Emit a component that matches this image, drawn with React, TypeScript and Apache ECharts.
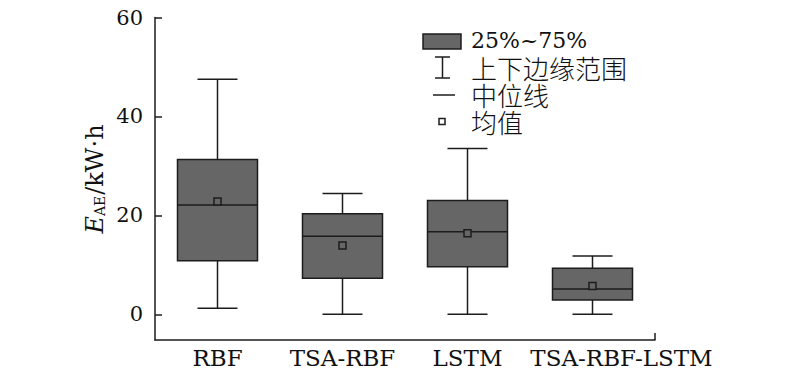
import React, { useEffect, useRef } from "react";
import * as echarts from "echarts";

const categories = ["RBF", "TSA-RBF", "LSTM", "TSA-RBF-LSTM"];
// [low whisker, Q1, median, Q3, high whisker]
const lowValues = [1.2, 0, 0, 0];
const q1Values = [10.8, 7.3, 9.6, 2.9];
const medianValues = [22.1, 15.8, 16.7, 5.1];
const q3Values = [31.3, 20.3, 23.0, 9.3];
const highValues = [47.5, 24.4, 33.5, 11.8];
const meanValues = [22.8, 13.9, 16.4, 5.7];
const yTicks = [0, 20, 40, 60];
const legendLabels = ["25%~75%", "上下边缘范围", "中位线", "均值"];

const SERIF = "'DejaVu Serif', 'Liberation Serif', serif";
const CJK = "'Noto Sans CJK SC', sans-serif";
const BOX_FILL = "#666666";
const LINE = "#1c1c1c";

export default function App() {
  const ref = useRef<HTMLDivElement>(null);
  useEffect(() => {
    if (!ref.current) return;
    const chart = echarts.init(ref.current, undefined, { renderer: "svg" });
    const data = categories.map((_, i) => [
      i,
      lowValues[i],
      q1Values[i],
      medianValues[i],
      q3Values[i],
      highValues[i],
      meanValues[i],
    ]);

    const renderItem = (params: any, api: any) => {
      const idx = api.value(0);
      const band = api.size([1, 0])[0];
      const hw = band * 0.32;
      const cw = band * 0.16;
      const pLow = api.coord([idx, api.value(1)]);
      const pQ1 = api.coord([idx, api.value(2)]);
      const pMed = api.coord([idx, api.value(3)]);
      const pQ3 = api.coord([idx, api.value(4)]);
      const pHigh = api.coord([idx, api.value(5)]);
      const pMean = api.coord([idx, api.value(6)]);
      const x = pMed[0];
      const ls = { stroke: LINE, lineWidth: 1.5 };
      const sq = 7;
      return {
        type: "group",
        children: [
          { type: "line", shape: { x1: x, y1: pHigh[1], x2: x, y2: pQ3[1] }, style: ls },
          { type: "line", shape: { x1: x, y1: pQ1[1], x2: x, y2: pLow[1] }, style: ls },
          { type: "line", shape: { x1: x - cw, y1: pHigh[1], x2: x + cw, y2: pHigh[1] }, style: ls },
          { type: "line", shape: { x1: x - cw, y1: pLow[1], x2: x + cw, y2: pLow[1] }, style: ls },
          {
            type: "rect",
            shape: { x: x - hw, y: pQ3[1], width: hw * 2, height: pQ1[1] - pQ3[1] },
            style: { fill: BOX_FILL, stroke: LINE, lineWidth: 1.5 },
          },
          { type: "line", shape: { x1: x - hw, y1: pMed[1], x2: x + hw, y2: pMed[1] }, style: ls },
          {
            type: "rect",
            shape: { x: x - sq / 2, y: pMean[1] - sq / 2, width: sq, height: sq },
            style: { fill: BOX_FILL, stroke: LINE, lineWidth: 1.5 },
          },
        ],
      };
    };

    const gridLeft = 155;
    const gridRight = 145;
    const gridTop = 17.5;
    const gridBottom = 41;
    const rightX = 800 - gridRight;
    const axisY = 381 - gridBottom;

    const legendX = 423;
    const textX = 471;

    chart.setOption({
      animation: false,
      grid: { left: gridLeft, right: gridRight, top: gridTop, bottom: gridBottom },
      xAxis: {
        type: "category",
        data: categories,
        boundaryGap: true,
        axisLine: { onZero: false, lineStyle: { color: LINE, width: 1.5 } },
        axisTick: { alignWithLabel: true, inside: true, length: 7, lineStyle: { color: LINE, width: 1.5 } },
        axisLabel: {
          interval: 0,
          color: "#111",
          fontFamily: SERIF,
          fontSize: 23,
          margin: 6,
          formatter: (v: string, i: number) => (i === categories.length - 1 ? `{last|${v}}` : v),
          rich: {
            last: { fontFamily: SERIF, fontSize: 23, color: "#111", padding: [0, 0, 0, 58] },
          },
        },
        splitLine: { show: false },
      },
      yAxis: {
        type: "value",
        min: -5.2,
        max: 60,
        axisLine: { show: true, lineStyle: { color: LINE, width: 1.5 } },
        axisTick: {
          show: true,
          inside: true,
          length: 7,
          customValues: yTicks,
          lineStyle: { color: LINE, width: 1.5 },
        },
        axisLabel: {
          color: "#111",
          fontFamily: SERIF,
          fontSize: 21,
          margin: 12,
          customValues: yTicks,
        },
        splitLine: { show: false },
      },
      series: [
        {
          type: "custom",
          renderItem,
          data,
          encode: { x: 0, y: [1, 2, 3, 4, 5, 6] },
          z: 3,
        },
      ],
      graphic: [
        {
          type: "line",
          shape: { x1: rightX, y1: axisY, x2: rightX, y2: axisY - 7 },
          style: { stroke: LINE, lineWidth: 1.5 },
        },
        {
          type: "text",
          x: 95,
          y: 179,
          rotation: Math.PI / 2,
          style: {
            text: "{e|E}{s|AE}{n|/kW·h}",
            align: "center",
            verticalAlign: "middle",
            rich: {
              e: { fontFamily: SERIF, fontStyle: "italic", fontSize: 24, fill: "#111", verticalAlign: "bottom" },
              s: { fontFamily: SERIF, fontSize: 14, fill: "#111", verticalAlign: "bottom", padding: [0, 1, 0, 0] },
              n: { fontFamily: SERIF, fontSize: 24, fill: "#111", verticalAlign: "bottom" },
            },
          },
        },
        {
          type: "rect",
          shape: { x: legendX, y: 34, width: 38, height: 15 },
          style: { fill: BOX_FILL, stroke: LINE, lineWidth: 1.5 },
        },
        { type: "line", shape: { x1: 435, y1: 57, x2: 450, y2: 57 }, style: { stroke: LINE, lineWidth: 1.5 } },
        { type: "line", shape: { x1: 442.5, y1: 57, x2: 442.5, y2: 78 }, style: { stroke: LINE, lineWidth: 1.5 } },
        { type: "line", shape: { x1: 435, y1: 78, x2: 450, y2: 78 }, style: { stroke: LINE, lineWidth: 1.5 } },
        { type: "line", shape: { x1: 433, y1: 95, x2: 455, y2: 95 }, style: { stroke: LINE, lineWidth: 1.5 } },
        {
          type: "rect",
          shape: { x: 439, y: 118.5, width: 6, height: 6 },
          style: { fill: "#fff", stroke: LINE, lineWidth: 1.5 },
        },
        {
          type: "text",
          x: textX,
          y: 27,
          style: {
            text: legendLabels
              .map((t, i) => (i === 0 ? `{a|${t}}` : `{c|${t}}`))
              .join("\n"),
            align: "left",
            verticalAlign: "top",
            rich: {
              a: { fontFamily: SERIF, fontSize: 22, fill: "#111", lineHeight: 27 },
              c: { fontFamily: CJK, fontSize: 26, fontWeight: 300, fill: "#111", lineHeight: 27 },
            },
          },
        },
      ],
    });
    return () => chart.dispose();
  }, []);
  return (
    <div
      ref={ref}
      style={{ position: "fixed", left: 0, top: 0, width: 800, height: 381, background: "#fff" }}
    />
  );
}
